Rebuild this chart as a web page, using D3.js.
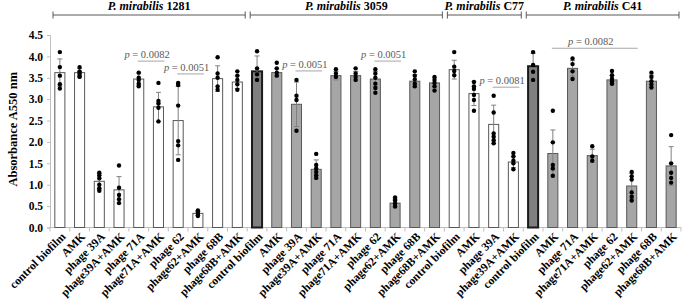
<!DOCTYPE html>
<html>
<head>
<meta charset="utf-8">
<script src="https://cdn.jsdelivr.net/npm/d3@7"></script>
<style>
  body { margin: 0; background: #fff; }
  text { font-family: "Liberation Serif", "Times New Roman", serif; }
</style>
</head>
<body>
<div id="chart"></div>
<script>
// strains and how many bars each has
const strains = ["1281", "3059", "C77", "C41"];
const strainSizes = [10, 10, 4, 8];

const categories = [
  "control biofilm", "AMK", "phage 39A", "phage39A+AMK", "phage 71A", "phage71A+AMK", "phage 62", "phage62+AMK", "phage 68B", "phage68B+AMK",
  "control biofilm", "AMK", "phage 39A", "phage39A+AMK", "phage 71A", "phage71A+AMK", "phage 62", "phage62+AMK", "phage 68B", "phage68B+AMK",
  "control biofilm", "AMK", "phage 39A", "phage39A+AMK",
  "control biofilm", "AMK", "phage 71A", "phage71A+AMK", "phage 62", "phage62+AMK", "phage 68B", "phage68B+AMK"
];

const means = [
  3.62, 3.62, 1.08, 0.88, 3.47, 2.82, 2.50, 0.33, 3.48, 3.40,
  3.65, 3.62, 2.88, 1.36, 3.55, 3.55, 3.47, 0.57, 3.42, 3.38,
  3.69, 3.13, 2.41, 1.53,
  3.77, 1.73, 3.72, 1.68, 3.45, 0.97, 3.42, 1.44
];

const errors = [
  0.32, 0.10, 0.18, 0.31, 0.14, 0.34, 0.80, 0.05, 0.30, 0.15,
  0.36, 0.09, 0.52, 0.22, 0.10, 0.10, 0.18, 0.09, 0.15, 0.12,
  0.22, 0.28, 0.45, 0.13,
  0.30, 0.55, 0.18, 0.15, 0.10, 0.30, 0.14, 0.45
];

const dots = [
  [4.10, 3.75, 3.55, 3.35, 3.25],
  [3.75, 3.65, 3.60, 3.55, 3.52],
  [1.28, 1.22, 1.15, 1.00, 0.92, 0.86],
  [1.45, 0.93, 0.76, 0.66, 0.57],
  [3.62, 3.50, 3.45, 3.36, 3.30],
  [3.38, 2.96, 2.90, 2.80, 2.48],
  [3.38, 3.33, 2.85, 2.02, 1.92, 1.58],
  [0.40, 0.37, 0.34, 0.30, 0.27],
  [3.98, 3.60, 3.50, 3.30, 3.22],
  [3.65, 3.55, 3.45, 3.35, 3.22],
  [4.12, 3.72, 3.58, 3.45],
  [3.85, 3.72, 3.62, 3.55],
  [3.45, 3.08, 2.98, 2.26],
  [1.72, 1.46, 1.38, 1.30, 1.22, 1.16],
  [3.70, 3.60, 3.52],
  [3.72, 3.60, 3.52, 3.45],
  [3.70, 3.60, 3.50, 3.36, 3.26, 3.15],
  [0.70, 0.63, 0.56, 0.49],
  [3.65, 3.55, 3.46, 3.36, 3.30],
  [3.52, 3.45, 3.38, 3.30, 3.20],
  [4.10, 3.76, 3.66, 3.56],
  [3.40, 3.30, 3.24, 3.10, 2.98, 2.73],
  [3.08, 2.69, 2.20, 2.12, 2.04, 1.97],
  [1.74, 1.66, 1.56, 1.50, 1.36],
  [4.10, 3.80, 3.64, 3.45],
  [2.73, 1.99, 1.46, 1.38, 1.21],
  [3.95, 3.82, 3.65, 3.47],
  [1.90, 1.66, 1.56],
  [3.66, 3.56, 3.48, 3.42, 3.36],
  [1.30, 1.20, 1.12, 0.82, 0.72, 0.63],
  [3.62, 3.52, 3.42, 3.34, 3.27],
  [2.16, 1.50, 1.28, 1.16, 1.05]
];

// significance annotations: first bar, last bar, p value, height of line (in data units)
const sigFrom = [4, 6, 12, 16, 22, 25];
const sigTo = [5, 7, 13, 17, 23, 29];
const sigP = ["0.0082", "0.0051", "0.0051", "0.0051", "0.0081", "0.0082"];
const sigLevel = [3.89, 3.59, 3.66, 3.89, 3.28, 4.19];

const yTicks = [0, 0.5, 1, 1.5, 2, 2.5, 3, 3.5, 4, 4.5];

const W = 685, H = 303;
const margin = { top: 35, right: 4, bottom: 75.5, left: 50 };
const width = W - margin.left - margin.right;
const height = H - margin.top - margin.bottom;

const svg = d3.select("#chart").append("svg")
  .attr("width", W)
  .attr("height", H);

const g = svg.append("g")
  .attr("transform", `translate(${margin.left},${margin.top})`);

const idx = d3.range(categories.length);

const x = d3.scaleBand()
  .domain(idx)
  .range([0, width])
  .paddingInner(0.49)
  .paddingOuter(0.245);

const y = d3.scaleLinear()
  .domain([0, 4.5])
  .range([height, 0]);

// strain index for each bar
const strainOf = [];
strainSizes.forEach((n, s) => { for (let k = 0; k < n; k++) strainOf.push(s); });
const firstOf = strainSizes.map((n, s) => d3.sum(strainSizes.slice(0, s)));

const step = x.step();
const cx = i => x(i) + x.bandwidth() / 2;

// y axis
const yAxis = g.append("g")
  .call(d3.axisLeft(y).tickValues(yTicks).tickFormat(d3.format(".1f")).tickSize(3).tickPadding(4));
yAxis.select(".domain").attr("stroke", "#bfbfbf");
yAxis.selectAll(".tick line").attr("stroke", "#bfbfbf");
yAxis.selectAll(".tick text")
  .style("font-size", "11.5px")
  .style("font-weight", "bold")
  .attr("fill", "#000");

// x axis line with ticks at category boundaries
g.append("line")
  .attr("x1", 0).attr("x2", width)
  .attr("y1", height).attr("y2", height)
  .attr("stroke", "#bfbfbf");
g.selectAll("line.xtick")
  .data(d3.range(categories.length + 1))
  .enter().append("line")
  .attr("class", "xtick")
  .attr("x1", d => d * step).attr("x2", d => d * step)
  .attr("y1", height).attr("y2", height + 4)
  .attr("stroke", "#bfbfbf");

// bars
const fillOf = i => {
  const s = strainOf[i];
  if (s === 0 || s === 2) return "#ffffff";
  if (i === firstOf[s]) return "#808080";
  return "#a6a6a6";
};
const isDark = i => (strainOf[i] === 1 || strainOf[i] === 3) && i === firstOf[strainOf[i]];

g.selectAll("rect.bar")
  .data(idx)
  .enter().append("rect")
  .attr("class", "bar")
  .attr("x", d => x(d))
  .attr("y", d => y(means[d]))
  .attr("width", x.bandwidth())
  .attr("height", d => height - y(means[d]))
  .attr("fill", d => fillOf(d))
  .attr("stroke", d => isDark(d) ? "#1a1a1a" : "#595959")
  .attr("stroke-width", d => isDark(d) ? 2 : 1);

// error bars
const eb = g.selectAll("g.err")
  .data(idx)
  .enter().append("g")
  .attr("class", "err")
  .attr("stroke", "#808080")
  .attr("stroke-width", 1);
eb.append("line")
  .attr("x1", d => cx(d)).attr("x2", d => cx(d))
  .attr("y1", d => y(means[d] + errors[d]))
  .attr("y2", d => y(Math.max(0, means[d] - errors[d])));
eb.append("line")
  .attr("x1", d => cx(d) - 2.5).attr("x2", d => cx(d) + 2.5)
  .attr("y1", d => y(means[d] + errors[d])).attr("y2", d => y(means[d] + errors[d]));
eb.append("line")
  .attr("x1", d => cx(d) - 2.5).attr("x2", d => cx(d) + 2.5)
  .attr("y1", d => y(Math.max(0, means[d] - errors[d]))).attr("y2", d => y(Math.max(0, means[d] - errors[d])));

// individual replicate points
const pts = idx.flatMap(i => dots[i].map(v => ({ i, v })));
g.selectAll("circle.pt")
  .data(pts)
  .enter().append("circle")
  .attr("class", "pt")
  .attr("cx", d => cx(d.i))
  .attr("cy", d => y(d.v))
  .attr("r", 2.2)
  .attr("fill", "#000");

// x tick labels, rotated
g.selectAll("text.xlab")
  .data(idx)
  .enter().append("text")
  .attr("class", "xlab")
  .attr("transform", d => `translate(${cx(d) + 3.5},${height + 7}) rotate(-45)`)
  .attr("text-anchor", "end")
  .attr("dy", "0.35em")
  .style("font-size", "11.6px")
  .style("font-weight", "bold")
  .text(d => categories[d]);

// significance lines
sigP.forEach((p, k) => {
  const x1 = cx(sigFrom[k]) - 1;
  const x2 = cx(sigTo[k]) + 6;
  const ly = y(sigLevel[k]);
  g.append("line")
    .attr("x1", x1).attr("x2", x2)
    .attr("y1", ly).attr("y2", ly)
    .attr("stroke", "#a6a6a6")
    .attr("stroke-width", 1);
  const t = g.append("text")
    .attr("x", (x1 + x2) / 2 - 4)
    .attr("y", ly - 3)
    .attr("text-anchor", "middle")
    .attr("fill", "#595959")
    .style("font-size", "10.5px");
  t.append("tspan").style("font-style", "italic").text("p");
  t.append("tspan").text(" = " + p);
});

// strain brackets along the top
strains.forEach((s, k) => {
  const left = firstOf[k] * step + 3;
  const right = (firstOf[k] + strainSizes[k]) * step - 2;
  const by = 15 - margin.top;
  const br = g.append("g").attr("stroke", "#595959").attr("stroke-width", 1);
  br.append("line").attr("x1", left).attr("x2", right).attr("y1", by).attr("y2", by);
  br.append("line").attr("x1", left).attr("x2", left).attr("y1", by - 3.5).attr("y2", by + 3.5);
  br.append("line").attr("x1", right).attr("x2", right).attr("y1", by - 3.5).attr("y2", by + 3.5);
  const t = g.append("text")
    .attr("x", (left + right) / 2)
    .attr("y", 10 - margin.top)
    .attr("text-anchor", "middle")
    .style("font-size", "12px")
    .style("font-weight", "bold");
  t.append("tspan").style("font-style", "italic").text("P. mirabilis");
  t.append("tspan").text(" " + s);
});

// y axis title
g.append("text")
  .attr("transform", `translate(${13 - margin.left},${height / 2 - 2}) rotate(-90)`)
  .attr("text-anchor", "middle")
  .attr("dy", "0.35em")
  .style("font-size", "12.5px")
  .style("font-weight", "bold")
  .text("Absorbance A550 nm");
</script>
</body>
</html>
